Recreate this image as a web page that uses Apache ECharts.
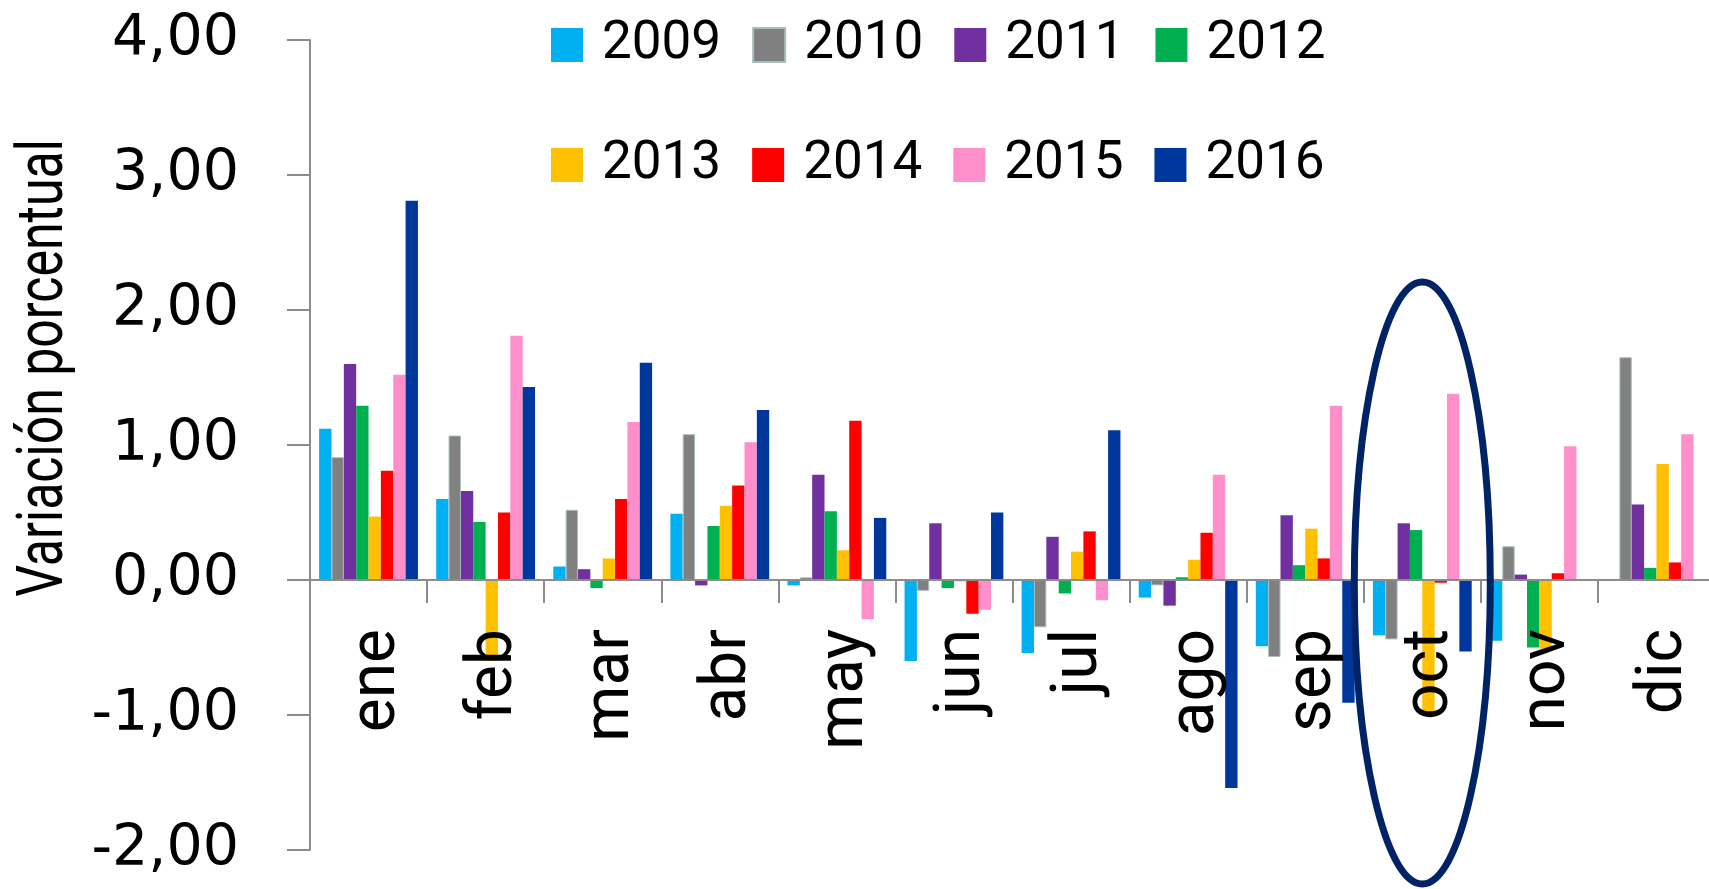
<!DOCTYPE html>
<html>
<head>
<meta charset="utf-8">
<script src="https://cdn.jsdelivr.net/npm/echarts@6/dist/echarts.min.js"></script>
<style>
    html, body {
        margin: 0;
        padding: 0;
        background: #fff;
    }

    #chart {
        width: 1709px;
        height: 889px;
    }
</style>
</head>
<body>
<div id="chart"></div>
<script>
const months = ['ene', 'feb', 'mar', 'abr', 'may', 'jun', 'jul', 'ago', 'sep', 'oct', 'nov', 'dic'];
const years = ['2009', '2010', '2011', '2012', '2013', '2014', '2015', '2016'];
const yTicks = [-2, -1, 0, 1, 2, 3, 4];

const v2009 = [1.12, 0.60, 0.10, 0.49, -0.04, -0.60, -0.54, -0.13, -0.49, -0.41, -0.45, null];
const v2010 = [0.91, 1.07, 0.52, 1.08, 0.02, -0.08, -0.35, -0.04, -0.57, -0.44, 0.25, 1.65];
const v2011 = [1.60, 0.66, 0.08, -0.04, 0.78, 0.42, 0.32, -0.19, 0.48, 0.42, 0.04, 0.56];
const v2012 = [1.29, 0.43, -0.06, 0.40, 0.51, -0.06, -0.10, 0.02, 0.11, 0.37, -0.50, 0.09];
const v2013 = [0.47, -0.60, 0.16, 0.55, 0.22, -0.01, 0.21, 0.15, 0.38, -0.99, -0.51, 0.86];
const v2014 = [0.81, 0.50, 0.60, 0.70, 1.18, -0.25, 0.36, 0.35, 0.16, -0.02, 0.05, 0.13];
const v2015 = [1.52, 1.81, 1.17, 1.02, -0.29, -0.22, -0.15, 0.78, 1.29, 1.38, 0.99, 1.08];
const v2016 = [2.81, 1.43, 1.61, 1.26, 0.46, 0.50, 1.11, -1.54, -0.91, -0.53, null, null];

const values = [v2009, v2010, v2011, v2012, v2013, v2014, v2015, v2016];
const colors = ['#00B0F0', '#808080', '#7030A0', '#00B050', '#FFC000', '#FF0000', '#FF8FCB', '#00379C'];

const axisGray = '#8c8c8c';
const gridTop = 40;
const gridBottom = 39;
const plotHeight = 889 - gridTop - gridBottom;
const yMin = yTicks[0];
const yMax = yTicks[yTicks.length - 1];
// the month axis sits on the zero line, lifted up from the bottom of the grid
const zeroLift = plotHeight * (0 - yMin) / (yMax - yMin);

var chart = echarts.init(document.getElementById('chart'));

function legendRow(names, top) {
    return {
        data: names,
        left: 551,
        top: top,
        padding: 0,
        orient: 'horizontal',
        icon: 'rect',
        itemWidth: 32,
        itemHeight: 34,
        itemGap: 31,
        selectedMode: false,
        textStyle: {
            fontFamily: 'Roboto',
            fontSize: 53,
            lineHeight: 60,
            color: '#000',
            padding: [0, 0, 0, 14]
        }
    };
}

chart.setOption({
    animation: false,
    legend: [legendRow(years.slice(0, 4), 15), legendRow(years.slice(4), 135)],
    grid: {
        left: 310,
        right: -6,
        top: gridTop,
        bottom: gridBottom,
        containLabel: false,
        outerBoundsMode: 'none'
    },
    xAxis: {
        type: 'category',
        data: months,
        position: 'bottom',
        offset: -zeroLift,
        z: 3,
        axisLine: {
            onZero: false,
            lineStyle: { color: axisGray, width: 2 }
        },
        axisTick: {
            show: true,
            interval: 0,
            length: 23,
            lineStyle: { color: axisGray, width: 2 }
        },
        axisLabel: {
            rotate: 90,
            margin: 49,
            interval: 0,
            fontFamily: 'Roboto',
            fontSize: 64,
            color: '#000',
            // nudges the turned month names a little to the right of the slot centre
            verticalAlign: 'top',
            lineHeight: 18
        }
    },
    yAxis: {
        type: 'value',
        min: yMin,
        max: yMax,
        interval: 1,
        splitLine: { show: false },
        axisLine: {
            show: true,
            lineStyle: { color: axisGray, width: 2 }
        },
        axisTick: {
            show: true,
            length: 23,
            lineStyle: { color: axisGray, width: 2 }
        },
        axisLabel: {
            margin: 71,
            fontFamily: 'DejaVu Sans',
            fontSize: 57,
            color: '#000',
            formatter: function (value) {
                return value.toFixed(2).replace('.', ',');
            }
        }
    },
    series: years.map(function (year, i) {
        return {
            name: year,
            type: 'bar',
            data: values[i],
            barGap: '0%',
            barCategoryGap: '15.6%',
            itemStyle: {
                color: colors[i],
                borderColor: i == 1 ? '#a8bcbc' : undefined,
                borderWidth: i == 1 ? 1 : 0
            }
        };
    })
});

// circle round "oct", anchored on the category and the zero line
var c = chart.convertToPixel({ xAxisIndex: 0, yAxisIndex: 0 }, ['oct', 0]);
chart.setOption({
    graphic: [{
        type: 'text',
        x: 46,
        y: 368,
        rotation: Math.PI / 2,
        scaleY: 1.3,
        style: {
            text: 'Variación porcentual',
            fontFamily: 'Roboto',
            fontSize: 50,
            fill: '#000',
            align: 'center',
            verticalAlign: 'middle'
        }
    }, {
        type: 'ellipse',
        z: 10,
        shape: { cx: c[0], cy: c[1] + 3, rx: 68, ry: 301 },
        style: { fill: 'none', stroke: '#002366', lineWidth: 7 }
    }]
});
</script>
</body>
</html>
